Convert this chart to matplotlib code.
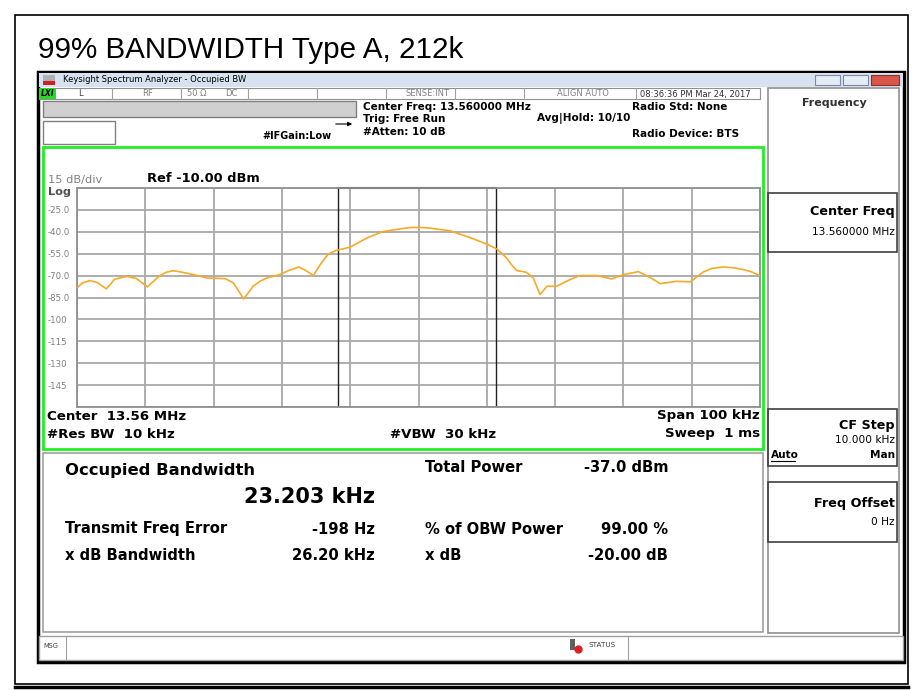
import numpy as np
import matplotlib
matplotlib.use('Agg')
import matplotlib.pyplot as plt
from matplotlib.patches import Rectangle

# trace (offset from centre in kHz, level in dBm)
freq_khz = [-50.0, -49.2, -48.1, -47.0, -45.7, -44.5, -42.7, -41.3, -39.7, -38.0,
            -37.0, -35.9, -33.5, -31.0, -28.3, -27.1, -25.6, -24.2, -23.2, -22.2,
            -20.3, -19.0, -17.5, -16.5, -15.4, -14.4, -13.2, -12.0, -10.0, -7.6,
            -5.2, -2.7, -1.2, 0.3, 1.7, 4.6, 7.5, 10.0, 11.5, 12.9,
            13.6, 14.4, 15.8, 16.8, 17.8, 18.8, 20.2, 22.2, 23.6, 26.1,
            28.3, 30.0, 32.2, 33.6, 35.4, 37.8, 39.8, 41.7, 43.0, 44.6,
            46.0, 47.6, 48.8, 50.0]
level_dbm = [-78.4, -75.0, -73.4, -74.8, -79.1, -72.5, -70.5, -72.0, -77.7, -70.5,
             -67.8, -66.6, -68.7, -71.6, -72.1, -75.0, -85.9, -77.3, -73.8, -71.6,
             -69.3, -66.5, -64.1, -66.5, -70.0, -62.5, -55.2, -52.7, -50.5, -44.3,
             -39.8, -38.0, -37.1, -37.0, -37.5, -39.3, -43.9, -48.4, -51.8, -58.0,
             -62.5, -66.6, -67.7, -71.6, -83.0, -77.3, -77.3, -72.7, -70.0, -70.0,
             -72.3, -69.3, -67.3, -70.5, -75.5, -73.9, -74.3, -67.5, -65.0, -64.1,
             -64.6, -65.9, -67.5, -70.0]

ref_level = -10.0
db_per_div = 15.0
n_ydiv = 10
span_khz = 100.0
obw_khz = 23.203
freq_err_khz = -0.198
ytick_labels = ['-25.0', '-40.0', '-55.0', '-70.0', '-85.0', '-100', '-115', '-130', '-145']

W, H = 922, 690
fig = plt.figure(figsize=(W / 100, H / 100), dpi=100)
fig.patch.set_facecolor('white')

# pixel-space canvas for the screenshot furniture
bg = fig.add_axes([0, 0, 1, 1])
bg.set_xlim(0, W)
bg.set_ylim(H, 0)
bg.axis('off')


def box(x0, y0, x1, y1, fc='none', ec='black', lw=1.0, z=1):
    bg.add_patch(Rectangle((x0, y0), x1 - x0, y1 - y0, facecolor=fc, edgecolor=ec, lw=lw, zorder=z))


def txt(x, y, s, size, bold=False, ha='left', color='black', family='DejaVu Sans', **kw):
    bg.text(x, y, s, fontsize=size, fontweight='bold' if bold else 'normal', ha=ha, va='center',
            color=color, family=family, zorder=5, **kw)


# document frame and title
box(15, 15, 908, 684, lw=1.2)
bg.plot([15, 908], [687, 687], color='black', lw=2.5)
txt(38, 50, '99% BANDWIDTH Type A, 212k', 21.3, family='Liberation Sans')

# window
box(38, 72, 904, 662, fc='white', ec='black', lw=2.5)
box(39, 73, 903, 87, fc='#d6e2f0', ec='none')
box(43, 75, 55, 85, fc='#b0b0b0', ec='none', z=2)
box(43, 81, 55, 85, fc='#d02020', ec='none', z=2)
txt(63, 79, 'Keysight Spectrum Analyzer - Occupied BW', 6.0)
box(815, 75, 840, 85, fc='#e4ecf6', ec='#7a8aa0', lw=0.8, z=2)
box(843, 75, 868, 85, fc='#e4ecf6', ec='#7a8aa0', lw=0.8, z=2)
box(871, 75, 899, 85, fc='#d9574a', ec='#8a3028', lw=0.8, z=2)

# status row
box(39, 88, 760, 99, fc='white', ec='#909090', lw=0.8)
box(40, 88, 56, 99, fc='#22dd22', ec='none', z=2)
txt(48, 93.5, 'LXI', 5.5, bold=True, ha='center', style='italic')
for xd in [112, 181, 248, 317, 386, 455, 524, 636]:
    bg.plot([xd, xd], [88, 99], color='#a0a0a0', lw=0.8)
txt(78, 94, 'L', 6.0, color='#404040')
txt(142, 94, 'RF', 6.0, color='#808080')
txt(187, 94, '50 Ω', 6.0, color='#808080')
txt(225, 94, 'DC', 6.0, color='#808080')
txt(405, 94, 'SENSE:INT', 6.0, color='#808080')
txt(557, 94, 'ALIGN AUTO', 6.0, color='#808080')
txt(640, 94, '08:36:36 PM Mar 24, 2017', 6.0, color='#303030')

# settings block
box(43, 101, 356, 117, fc='#d0d0d0', ec='#808080', lw=1.0)
box(43, 121, 115, 144, fc='white', ec='#808080', lw=1.0)
bg.annotate('', xy=(355, 124), xytext=(333, 124),
            arrowprops=dict(arrowstyle='-|>', color='black', lw=0.8, mutation_scale=6))
txt(262, 136, '#IFGain:Low', 7.0, bold=True)
txt(363, 107, 'Center Freq: 13.560000 MHz', 7.5, bold=True)
txt(363, 119, 'Trig: Free Run', 7.5, bold=True)
txt(363, 132, '#Atten: 10 dB', 7.5, bold=True)
txt(537, 119, 'Avg|Hold: 10/10', 7.5, bold=True)
txt(632, 107, 'Radio Std: None', 7.5, bold=True)
txt(632, 134, 'Radio Device: BTS', 7.5, bold=True)

# graticule panel
box(43, 147, 763, 449, fc='white', ec='#22ee22', lw=2.0)
txt(48, 180, '15 dB/div', 8.2, color='#808080')
txt(147, 179, 'Ref -10.00 dBm', 9.4, bold=True)
txt(48, 192, 'Log', 8.2, bold=True, color='#505050')
txt(47, 416, 'Center  13.56 MHz', 9.6, bold=True)
txt(47, 434, '#Res BW  10 kHz', 9.6, bold=True)
txt(390, 434, '#VBW  30 kHz', 9.6, bold=True)
txt(760, 416, 'Span 100 kHz', 9.6, bold=True, ha='right')
txt(760, 434, 'Sweep  1 ms', 9.6, bold=True, ha='right')

# result panel
box(43, 453, 763, 632, fc='white', ec='#a0a0a0', lw=1.2)
txt(65, 470, 'Occupied Bandwidth', 11.8, bold=True)
txt(375, 497, '23.203 kHz', 15.0, bold=True, ha='right')
txt(425, 468, 'Total Power', 10.6, bold=True)
txt(668, 468, '-37.0 dBm', 10.6, bold=True, ha='right')
txt(65, 529, 'Transmit Freq Error', 10.6, bold=True)
txt(375, 529, '-198 Hz', 10.6, bold=True, ha='right')
txt(425, 529, '% of OBW Power', 10.6, bold=True)
txt(668, 529, '99.00 %', 10.6, bold=True, ha='right')
txt(65, 556, 'x dB Bandwidth', 10.6, bold=True)
txt(375, 556, '26.20 kHz', 10.6, bold=True, ha='right')
txt(425, 556, 'x dB', 10.6, bold=True)
txt(668, 556, '-20.00 dB', 10.6, bold=True, ha='right')

# softkey panel
box(768, 88, 899, 633, fc='white', ec='#909090', lw=1.2)
txt(834, 103, 'Frequency', 8.0, bold=True, ha='center', color='#303030')
box(768, 193, 897, 252, ec='#404040', lw=1.2)
txt(895, 212, 'Center Freq', 9.2, bold=True, ha='right')
txt(895, 232, '13.560000 MHz', 7.6, ha='right')
box(768, 409, 897, 466, ec='#404040', lw=1.2)
txt(895, 425, 'CF Step', 9.2, bold=True, ha='right')
txt(895, 440, '10.000 kHz', 7.6, ha='right')
txt(771, 455, 'Auto', 7.6, bold=True)
bg.plot([771, 795], [461, 461], color='black', lw=0.8)
txt(895, 455, 'Man', 7.6, bold=True, ha='right')
box(768, 482, 897, 542, ec='#404040', lw=1.2)
txt(895, 503, 'Freq Offset', 9.2, bold=True, ha='right')
txt(895, 522, '0 Hz', 7.6, ha='right')

# message bar
box(39, 636, 903, 660, fc='white', ec='#a0a0a0', lw=1.0)
bg.plot([66, 66], [636, 660], color='#a0a0a0', lw=0.8)
bg.plot([628, 628], [636, 660], color='#a0a0a0', lw=0.8)
txt(43, 646, 'MSG', 4.8, color='#404040')
box(570, 639, 575, 650, fc='#606060', ec='none', z=2)
bg.plot([578], [649], 'o', color='#e02020', ms=5, zorder=3)
txt(588, 645, 'STATUS', 5.2, color='#404040')

# spectrum trace
x0, x1, y0, y1 = 77, 760, 188, 407
ax = fig.add_axes([x0 / W, 1 - y1 / H, (x1 - x0) / W, (y1 - y0) / H])
ax.set_facecolor('white')
bottom = ref_level - n_ydiv * db_per_div
ax.set_xlim(-span_khz / 2, span_khz / 2)
ax.set_ylim(bottom, ref_level)
ax.set_xticks(np.arange(-span_khz / 2, span_khz / 2 + 1, span_khz / 10))
ax.grid(True, color='#a8a8a8', lw=1.3)
ax.set_axisbelow(True)
for sp in ax.spines.values():
    sp.set_color('#909090')
    sp.set_linewidth(1.3)
ax.set_xticklabels([])
ax.tick_params(length=0)
# y labels sit left-aligned at the panel edge
tick_vals = [ref_level - db_per_div * (i + 1) for i in range(len(ytick_labels))]
ax.set_yticks(tick_vals, labels=ytick_labels)
ax.set_yticks(np.arange(bottom, ref_level + 1, db_per_div), minor=True)
ax.grid(True, which='minor', color='#a8a8a8', lw=1.3)
ax.tick_params(axis='y', which='both', length=0, pad=21, labelsize=6.2, labelcolor='#808080')
for lab in ax.get_yticklabels():
    lab.set_horizontalalignment('left')

lo = freq_err_khz - obw_khz / 2
hi = freq_err_khz + obw_khz / 2
ax.axvline(lo, color='#202020', lw=1.0)
ax.axvline(hi, color='#202020', lw=1.0)
ax.plot([lo, hi], [ref_level, ref_level], color='#202020', lw=1.5, clip_on=False)
ax.plot(freq_khz, level_dbm, color='#f7a928', lw=1.2, zorder=4)

fig.savefig('out.png', dpi=100)
